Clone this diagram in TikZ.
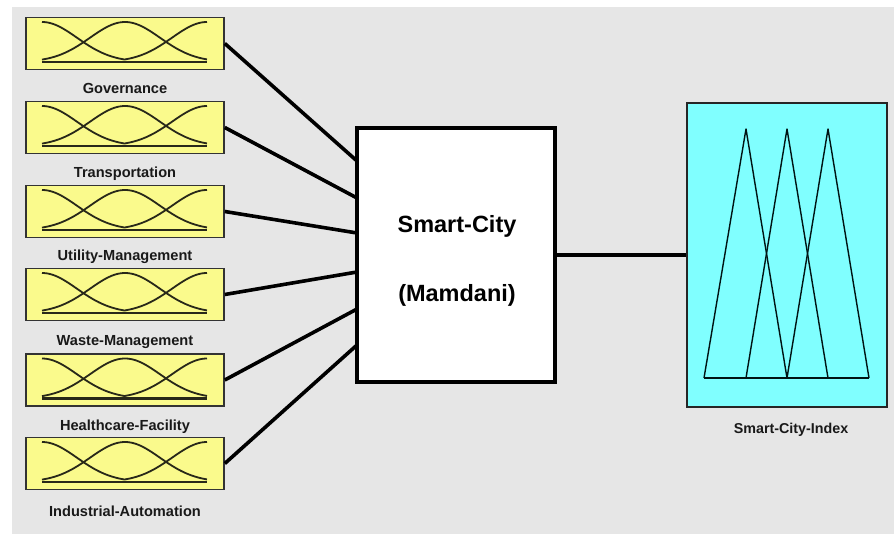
\documentclass[tikz,border=0pt]{standalone}
\usepackage{fontspec}
\setmainfont{Liberation Sans}
\definecolor{bgc}{RGB}{230,230,230}
\definecolor{mfyellow}{RGB}{250,250,140}
\definecolor{outcyan}{RGB}{128,255,255}
\definecolor{mfline}{RGB}{40,40,25}
\begin{document}
\begin{tikzpicture}[x=1pt,y=-1pt,
  inbox/.style={draw=black!80,line width=1.6pt,fill=mfyellow,minimum width=198pt,minimum height=52pt,inner sep=0pt},
  inlabel/.style={font=\bfseries\fontsize{14.6}{16}\selectfont,text=black!90,inner sep=0pt},
  mf/.style={draw=mfline,line width=1.8pt},
  conn/.style={line width=3.6pt,black},
  midbox/.style={draw=black,line width=3.6pt,fill=white,minimum width=198pt,minimum height=254pt,inner sep=0pt},
  outbox/.style={draw=black!85,line width=1.8pt,fill=outcyan,minimum width=200pt,minimum height=304pt,inner sep=0pt},
  bigtext/.style={font=\bfseries\fontsize{23.5}{28}\selectfont,inner sep=0pt},
  tri/.style={draw=black!85!teal,line width=1.4pt,line join=round}]
\useasboundingbox (0,0) rectangle (894,534);
\fill[white] (0,0) rectangle (894,534);
\fill[bgc] (12,7) rectangle (894,534);

\node[midbox] (mid) at (456,255) {};
\node[bigtext] (t1) at (457,226) {Smart-City};
\node[bigtext] (t2) at (457,295) {(Mamdani)};

\foreach \i/\yc/\lab/\ly/\ey in {1/43.5/Governance/88/161,2/127.5/Transportation/174/198,3/211.5/Utility-Management/257/233,4/294.5/Waste-Management/342/272,5/380/Healthcare-Facility/427/309,6/463.5/Industrial-Automation/511/345}{
  \node[inbox] (in\i) at (125,\yc) {};
  \begin{scope}[shift={(in\i.center)}]
    \draw[mf] plot[domain=-83:0,samples=40,smooth] (\x,{18.5-40*exp(-0.5*((\x+83)/35)*((\x+83)/35))});
    \draw[mf] plot[domain=-83:82,samples=70,smooth] (\x,{18.5-40*exp(-0.5*((\x)/35)*((\x)/35))});
    \draw[mf] plot[domain=0:82,samples=40,smooth] (\x,{18.5-40*exp(-0.5*((\x-82)/35)*((\x-82)/35))});
    \draw[mfline,line width=2.4pt] (-83,18.5) -- (82,18.5);
  \end{scope}
  \node[inlabel] (lab\i) at (125,\ly) {\lab};
  \coordinate (m\i) at (357,\ey);
  \draw[conn] (in\i.east) -- (m\i);
}

\node[outbox] (out) at (787,255) {};
\draw[conn,line width=3.2pt] (mid.east) -- (out.west);

\draw[tri] (704,378) -- (746,129) -- (787,378);
\draw[tri] (746,378) -- (787,129) -- (828,378);
\draw[tri] (787,378) -- (828,129) -- (869,378);
\draw[tri,line width=1.9pt] (704,378) -- (869,378);

\node[font=\bfseries\fontsize{14.3}{16}\selectfont,inner sep=0pt,text=black!90] (outlab) at (791,430) {Smart-City-Index};
\end{tikzpicture}
\end{document}
